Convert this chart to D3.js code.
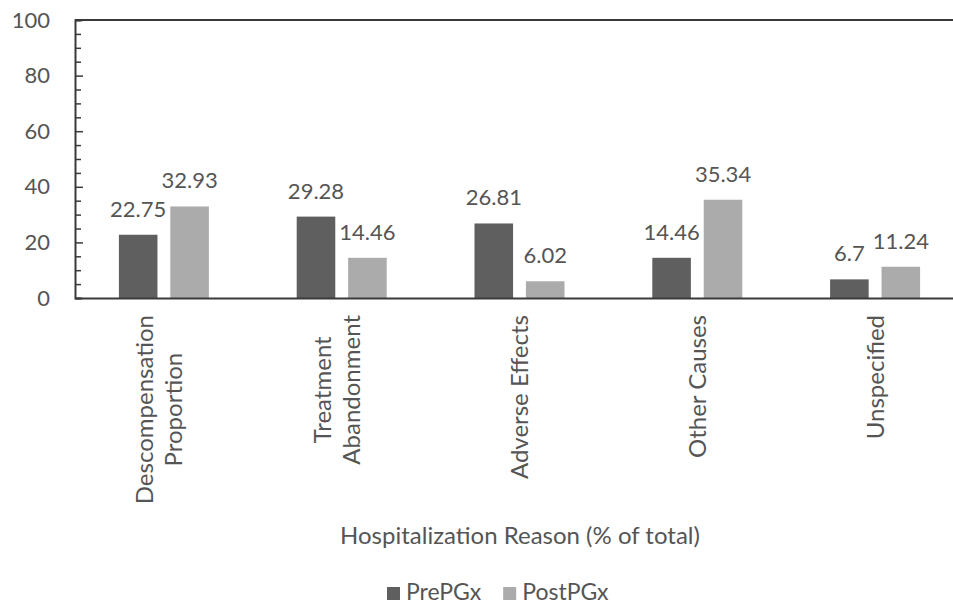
<!DOCTYPE html>
<html>
<head>
<meta charset="utf-8">
<script src="https://cdn.jsdelivr.net/npm/d3@7"></script>
<style>
  html, body { margin: 0; padding: 0; background: #fff; }
  svg { display: block; }
</style>
</head>
<body>
<svg id="chart" width="953" height="606"></svg>
<script>
// Hospitalization reasons, PrePGx vs PostPGx (grouped bars)
const categories = ['Descompensation\nProportion', 'Treatment\nAbandonment', 'Adverse Effects', 'Other Causes', 'Unspecified'];
const seriesNames = ['PrePGx', 'PostPGx'];
const prePGx = [22.75, 29.28, 26.81, 14.46, 6.7];
const postPGx = [32.93, 14.46, 6.02, 35.34, 11.24];
const yTicks = [0, 20, 40, 60, 80, 100];
const xTitle = 'Hospitalization Reason (% of total)';

const COLORS = { PrePGx: '#5f5f5f', PostPGx: '#ababab' };
const TEXT = '#555555';
const AXIS = '#3a3a3a';
const FONT = 'Lato, "Open Sans", sans-serif';
const NUM_FS = 22;   // digits
const WORD_FS = 24;  // words

const PLOT = { left: 75, top: 20, right: 964, bottom: 298 };

const svg = d3.select('#chart');

const rows = categories.map((c, i) => ({ cat: c, PrePGx: prePGx[i], PostPGx: postPGx[i] }));

// --- scales ---
const x = d3.scaleBand().domain(categories).range([PLOT.left, PLOT.right]).padding(0);
const xSub = d3.scaleBand().domain(seriesNames).range([-45, 45]).paddingInner(0.25).paddingOuter(0);
const y = d3.scaleLinear().domain([0, 100]).range([PLOT.bottom, PLOT.top]);

// --- bars ---
const groups = svg.selectAll('g.grp')
  .data(rows)
  .join('g')
  .attr('class', 'grp')
  .attr('transform', d => `translate(${x(d.cat) + x.bandwidth() / 2},0)`);

seriesNames.forEach(s => {
  groups.append('rect')
    .attr('x', xSub(s))
    .attr('y', d => y(d[s]))
    .attr('width', xSub.bandwidth())
    .attr('height', d => y(0) - y(d[s]))
    .attr('fill', COLORS[s]);
});

// value labels on top of everything
seriesNames.forEach(s => {
  groups.append('text')
    .attr('x', xSub(s) + xSub.bandwidth() / 2)
    .attr('y', d => y(d[s]) - 18)
    .attr('text-anchor', 'middle')
    .style('font-family', FONT)
    .style('font-size', NUM_FS + 'px')
    .style('fill', TEXT)
    .text(d => d[s]);
});

// --- frame: top line ---
svg.append('line')
  .attr('x1', PLOT.left).attr('x2', PLOT.right)
  .attr('y1', PLOT.top).attr('y2', PLOT.top)
  .attr('stroke', AXIS).attr('stroke-width', 2);

// --- y axis (ticks inside) ---
const yAxis = svg.append('g')
  .attr('transform', `translate(${PLOT.left},0)`)
  .call(d3.axisRight(y).tickValues(d3.range(0, 101, 5)).tickSize(6).tickFormat(''));
yAxis.select('.domain').attr('stroke', AXIS).attr('stroke-width', 2);
yAxis.selectAll('.tick line')
  .attr('stroke', AXIS)
  .attr('stroke-width', 1.5)
  .attr('x2', d => d % 20 === 0 ? 8 : 6);

const yLabels = svg.append('g')
  .attr('transform', `translate(${PLOT.left},0)`)
  .call(d3.axisLeft(y).tickValues(yTicks).tickSize(0).tickPadding(25));
yLabels.select('.domain').remove();
yLabels.selectAll('.tick text')
  .style('font-family', FONT)
  .style('font-size', NUM_FS + 'px')
  .style('fill', TEXT);

// --- x axis with rotated wrapped labels ---
const xAxis = svg.append('g')
  .attr('transform', `translate(0,${PLOT.bottom})`)
  .call(d3.axisBottom(x).tickSize(0).tickFormat(''));
xAxis.select('.domain').attr('stroke', AXIS).attr('stroke-width', 2);

const LH = 29;
xAxis.selectAll('.tick').each(function(d) {
  const lines = d.split('\n');
  const n = lines.length;
  const t = d3.select(this).append('text')
    .attr('transform', 'rotate(-90)')
    .attr('text-anchor', 'middle')
    .style('font-family', FONT)
    .style('font-size', WORD_FS + 'px')
    .style('fill', TEXT);
  const spans = lines.map((ln, i) => t.append('tspan')
    .attr('y', (i - (n - 1) / 2) * LH + 0.37 * WORD_FS - (n - 1) * 5)
    .text(ln));
  const maxLen = d3.max(spans, sp => sp.node().getComputedTextLength());
  spans.forEach(sp => sp.attr('x', -(17 + maxLen / 2)));
});

// --- axis title ---
svg.append('text')
  .attr('x', 520)
  .attr('y', 544)
  .attr('text-anchor', 'middle')
  .style('font-family', FONT)
  .style('font-size', WORD_FS + 'px')
  .style('fill', TEXT)
  .text(xTitle);

// --- legend ---
const legend = svg.append('g').attr('transform', 'translate(387,600)');
let lx = 0;
seriesNames.forEach(s => {
  legend.append('rect')
    .attr('x', lx).attr('y', -13)
    .attr('width', 13).attr('height', 13)
    .attr('fill', COLORS[s]);
  const tx = legend.append('text')
    .attr('x', lx + 19).attr('y', 0)
    .style('font-family', FONT)
    .style('font-size', '23px')
    .style('fill', TEXT)
    .text(s);
  lx += 19 + tx.node().getComputedTextLength() + 22;
});
</script>
</body>
</html>
